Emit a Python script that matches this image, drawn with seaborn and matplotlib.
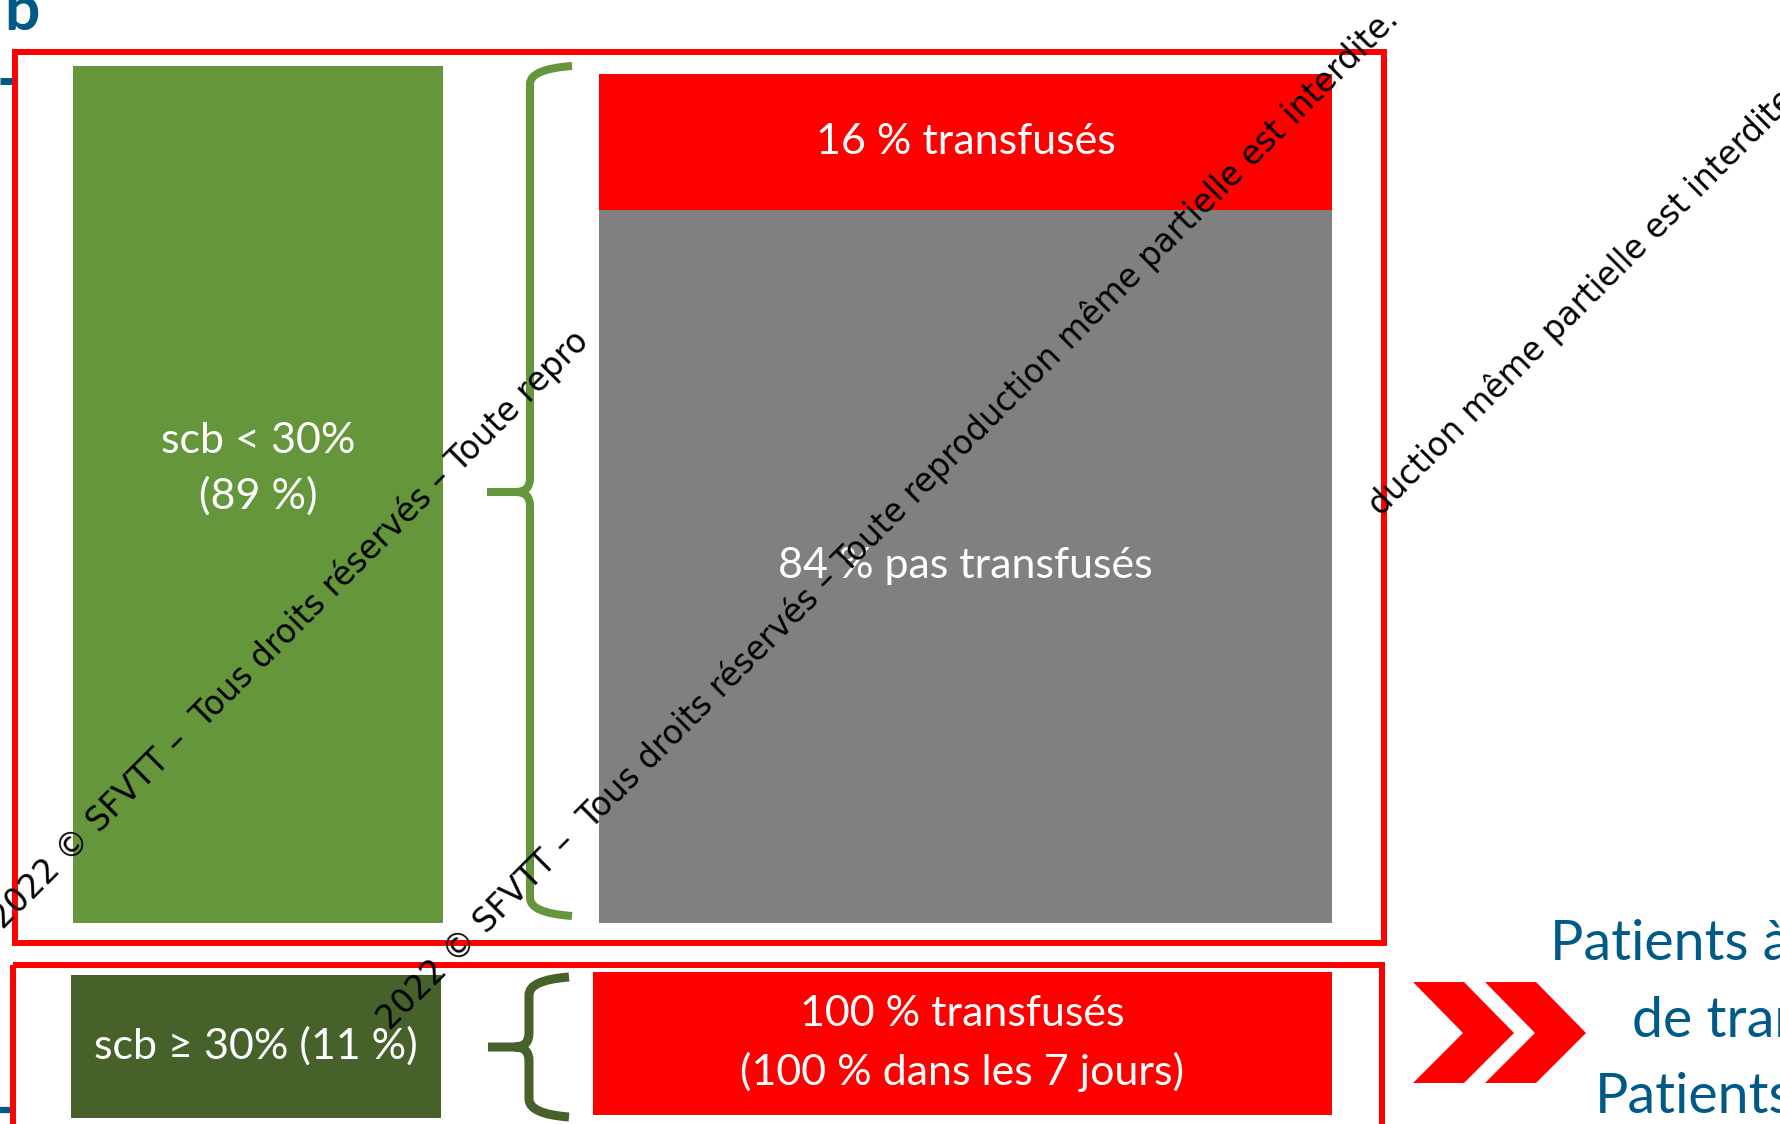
import matplotlib
matplotlib.use("Agg")
import matplotlib.pyplot as plt
import seaborn as sns
from matplotlib.path import Path
from matplotlib.patches import PathPatch, Rectangle, Polygon

# ---- data ----
scb_labels = ['scb < 30%\n(89 %)', 'scb ≥ 30% (11 %)']
scb_share = [89, 11]
low_labels = ['16 % transfusés', '84 % pas transfusés']
low_share = [16, 84]
high_labels = ['100 % transfusés\n(100 % dans les 7 jours)']
high_share = [100]
side_text = ['Patients à risque', 'de transfusion', 'Patients']
watermark = '2022 © SFVTT –  Tous droits réservés – Toute reproduction même partielle est interdite.'

GREEN = '#66963B'
DARK_GREEN = '#46622A'
RED = '#FF0000'
GRAY = '#808080'
BLUE = '#005A87'

sns.set_theme(style='white')
plt.rcParams['font.family'] = ['Lato', 'DejaVu Sans']

W, H = 1781, 1124
fig = plt.figure(figsize=(W / 100, H / 100), dpi=100)


def px_axes(x0, y0, x1, y1, z=0):
    a = fig.add_axes([x0 / W, 1 - y1 / H, (x1 - x0) / W, (y1 - y0) / H], zorder=z)
    a.set_axis_off()
    return a


def one_bar(ax, value, color, top):
    sns.barplot(x=[0], y=[value], color=color, width=1, saturation=1,
                linewidth=0, ax=ax)
    ax.set_xlim(-0.5, 0.5)
    ax.set_ylim(0, top)
    ax.set_axis_off()


# left column: scb groups
ax_g1 = px_axes(73, 66, 443, 923)
one_bar(ax_g1, scb_share[0], GREEN, scb_share[0])
ax_g1.text(0, scb_share[0] * 0.53, scb_labels[0], color='white', fontsize=31,
           ha='center', va='center', linespacing=1.5)

ax_g2 = px_axes(71, 975, 441, 1118)
one_bar(ax_g2, scb_share[1], DARK_GREEN, scb_share[1])
ax_g2.text(0, scb_share[1] / 2, scb_labels[1], color='white', fontsize=31,
           ha='center', va='center')

# right column: stacked transfusion bar (red total, gray on top of it)
ax_s = px_axes(599, 74, 1332, 923)
total = sum(low_share)
one_bar(ax_s, total, RED, total)
sns.barplot(x=[0], y=[low_share[1]], color=GRAY, width=1, saturation=1,
            linewidth=0, ax=ax_s)
ax_s.set_xlim(-0.5, 0.5)
ax_s.set_ylim(0, total)
ax_s.set_axis_off()
ax_s.text(0, low_share[1] + low_share[0] / 2, low_labels[0], color='white',
          fontsize=31, ha='center', va='center')
ax_s.text(0, low_share[1] / 2, low_labels[1], color='white',
          fontsize=31, ha='center', va='center')

ax_r = px_axes(593, 972, 1332, 1115)
one_bar(ax_r, high_share[0], RED, high_share[0])
ax_r.text(0, high_share[0] / 2, high_labels[0], color='white', fontsize=31,
          ha='center', va='center', linespacing=1.55)

# layout layer in pixel coordinates
ax = fig.add_axes([0, 0, 1, 1], zorder=1)
ax.set_xlim(0, W)
ax.set_ylim(H, 0)
ax.set_axis_off()
ax.patch.set_alpha(0)

ax.add_patch(Rectangle((15.5, 51.5), 1369, 891, fill=False, ec=RED, lw=4.3))
ax.add_patch(Rectangle((13.5, 964.5), 1368.5, 200, fill=False, ec=RED, lw=4.3))


def brace(x_tip, x_stem, x_right, y_top, y_mid, y_bot, color, lw):
    r = 14
    verts = [(x_right, y_top), (x_stem, y_top + 3), (x_stem, y_top + r + 4),
             (x_stem, y_mid - r), (x_stem, y_mid), (x_stem - r, y_mid),
             (x_tip, y_mid),
             (x_stem - r, y_mid), (x_stem, y_mid), (x_stem, y_mid + r),
             (x_stem, y_bot - r - 4), (x_stem, y_bot - 3), (x_right, y_bot)]
    codes = [Path.MOVETO, Path.CURVE3, Path.CURVE3,
             Path.LINETO, Path.CURVE3, Path.CURVE3,
             Path.LINETO,
             Path.MOVETO, Path.CURVE3, Path.CURVE3,
             Path.LINETO, Path.CURVE3, Path.CURVE3]
    ax.add_patch(PathPatch(Path(verts, codes), fill=False, ec=color, lw=lw,
                           capstyle='butt', joinstyle='round'))


brace(487, 530, 572, 66, 492, 916, GREEN, 5.8)
brace(488, 529, 569, 977, 1047, 1117, DARK_GREEN, 6.5)

# chevrons
for dx in (0, 72):
    ax.add_patch(Polygon([(1413 + dx, 982), (1464 + dx, 982), (1514 + dx, 1033),
                          (1464 + dx, 1083), (1413 + dx, 1083), (1463 + dx, 1033)],
                         closed=True, fc=RED, ec='none'))

# bits of slide decoration on the left edge
ax.plot([0, 12], [80.5, 80.5], color=BLUE, lw=5, solid_capstyle='butt')
ax.plot([0, 10], [1110, 1110], color=BLUE, lw=4.5, solid_capstyle='butt')

ax.text(4, 30, 'b', color=BLUE, fontsize=45, fontweight='bold', va='baseline')

for txt, x, y in zip(side_text, [1550, 1632, 1595], [960, 1037, 1113]):
    ax.text(x, y, txt, color=BLUE, fontsize=40, va='baseline', ha='left',
            clip_on=False)

# watermark
wm_kw = dict(rotation=45, rotation_mode='anchor', ha='left', va='baseline',
             fontsize=23.5, color='black', family='DejaVu Sans', zorder=5)
fig.text(3 / W, 1 - 930 / H, watermark.split('repro')[0] + 'repro', **wm_kw)
fig.text(390 / W, 1 - 1031 / H, watermark, **wm_kw)
fig.text(1381 / W, 1 - 517 / H, 'duction' + watermark.split('reproduction')[1], **wm_kw)

fig.savefig('out.png', dpi=100)
